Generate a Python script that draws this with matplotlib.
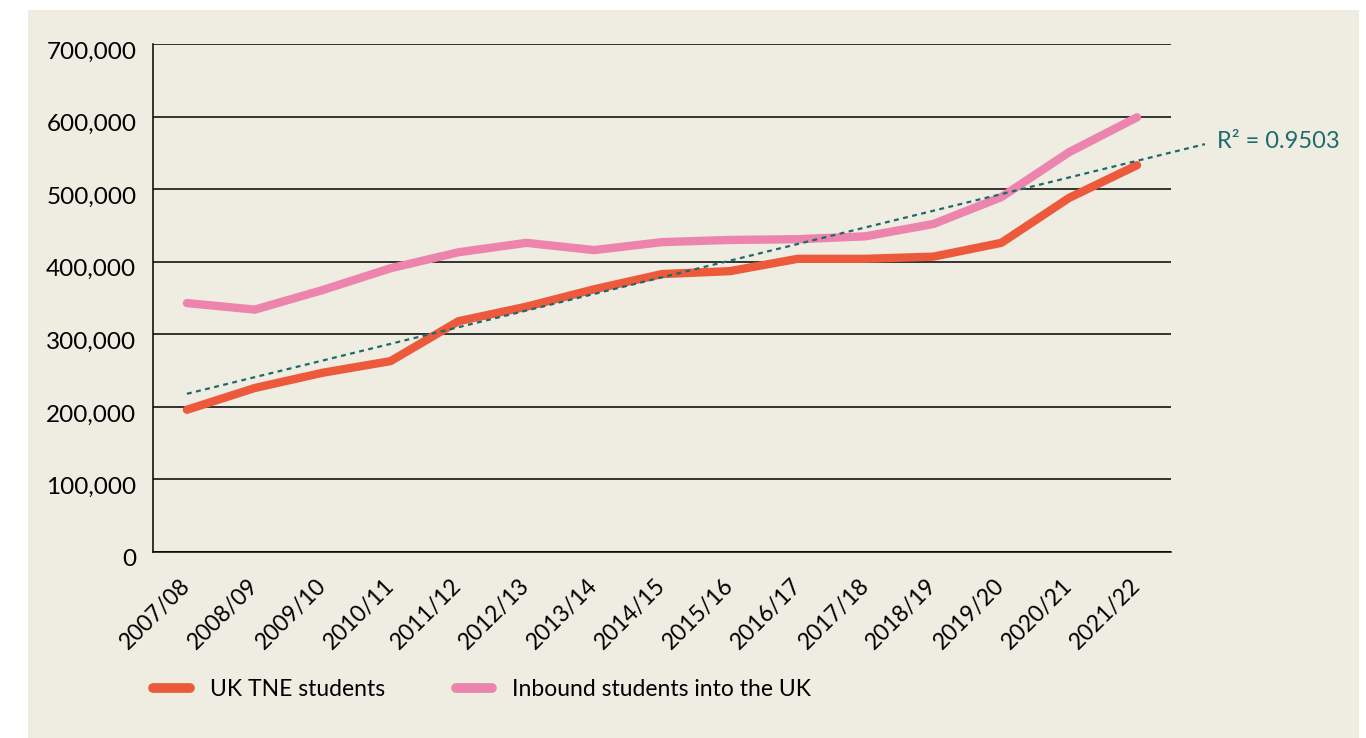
import matplotlib
matplotlib.use('Agg')
import matplotlib.pyplot as plt
import matplotlib.transforms as mtransforms
from matplotlib.patches import Rectangle
import numpy as np

plt.rcParams['font.family'] = ['Lato', 'DejaVu Sans']

years = ['2007/08', '2008/09', '2009/10', '2010/11', '2011/12', '2012/13', '2013/14',
         '2014/15', '2015/16', '2016/17', '2017/18', '2018/19', '2019/20', '2020/21', '2021/22']
tne = [196000, 226000, 247000, 263000, 318000, 338000, 362000, 383000, 387000,
       404000, 404000, 407000, 426000, 488000, 533000]
inbound = [343000, 334000, 361000, 391000, 413000, 426000, 416000, 427000, 430000,
           431000, 435000, 452000, 489000, 551000, 599000]
# linear trend (as drawn in the original), start and forecast end
trend_x = [0, 15]
trend_y = [218000, 562000]
r2_label = 'R\u00b2 = 0.9503'

bg = '#efece2'
red = '#ec5a3b'
pink = '#ec84ae'
teal = '#1c6b6b'

fig = plt.figure(figsize=(13.66, 7.38), dpi=100, facecolor='white')
fig.patches.append(Rectangle((28 / 1366, 0), (1359 - 28) / 1366, (738 - 10) / 738,
                             transform=fig.transFigure, facecolor=bg, edgecolor='none', zorder=-1))
ax = fig.add_axes([153 / 1366, 1 - 552 / 738, (1171 - 153) / 1366, (552 - 44) / 738])
ax.set_facecolor(bg)

x = np.arange(len(years))
ax.plot(x, tne, color=red, lw=6, solid_capstyle='round', solid_joinstyle='round',
        label='UK TNE students', zorder=3)
ax.plot(x, inbound, color=pink, lw=6, solid_capstyle='round', solid_joinstyle='round',
        label='Inbound students into the UK', zorder=3)
ax.plot(trend_x, trend_y, color=teal, lw=1.6, dashes=(2.2, 2.0), clip_on=False, zorder=4)
ax.text(15.18, 565000, r2_label, color=teal, fontsize=17, ha='left', va='center')

ax.set_xlim(-0.5, 14.5)
ax.set_ylim(0, 700000)
ax.set_yticks(np.arange(0, 700001, 100000))
ax.set_yticklabels(['{:,}'.format(v) for v in range(0, 700001, 100000)])
ax.set_xticks(x)
ax.set_xticklabels(years, rotation=45, ha='right', va='center', rotation_mode='anchor')

ax.yaxis.grid(True, color='black', lw=1.1)
ax.set_axisbelow(True)
for s in ['top', 'right']:
    ax.spines[s].set_visible(False)
for s in ['left', 'bottom']:
    ax.spines[s].set_color('black')
    ax.spines[s].set_linewidth(1.1)
ax.tick_params(axis='y', length=0, labelsize=17.5, pad=12)
ax.tick_params(axis='x', length=0, labelsize=16.5, pad=22)

off = mtransforms.ScaledTranslation(0, -0.06, fig.dpi_scale_trans)
for lab in ax.get_yticklabels():
    lab.set_transform(lab.get_transform() + off)

leg = fig.legend(loc='center left', bbox_to_anchor=(142 / 1366, 1 - 690 / 738), ncol=2,
                 frameon=False, fontsize=16.5, handlelength=1.6, handletextpad=0.85,
                 columnspacing=3.1, borderpad=0)
for h in leg.get_lines():
    h.set_linewidth(7)
    h.set_solid_capstyle('round')

fig.savefig('out.png', dpi=100, facecolor='white')
